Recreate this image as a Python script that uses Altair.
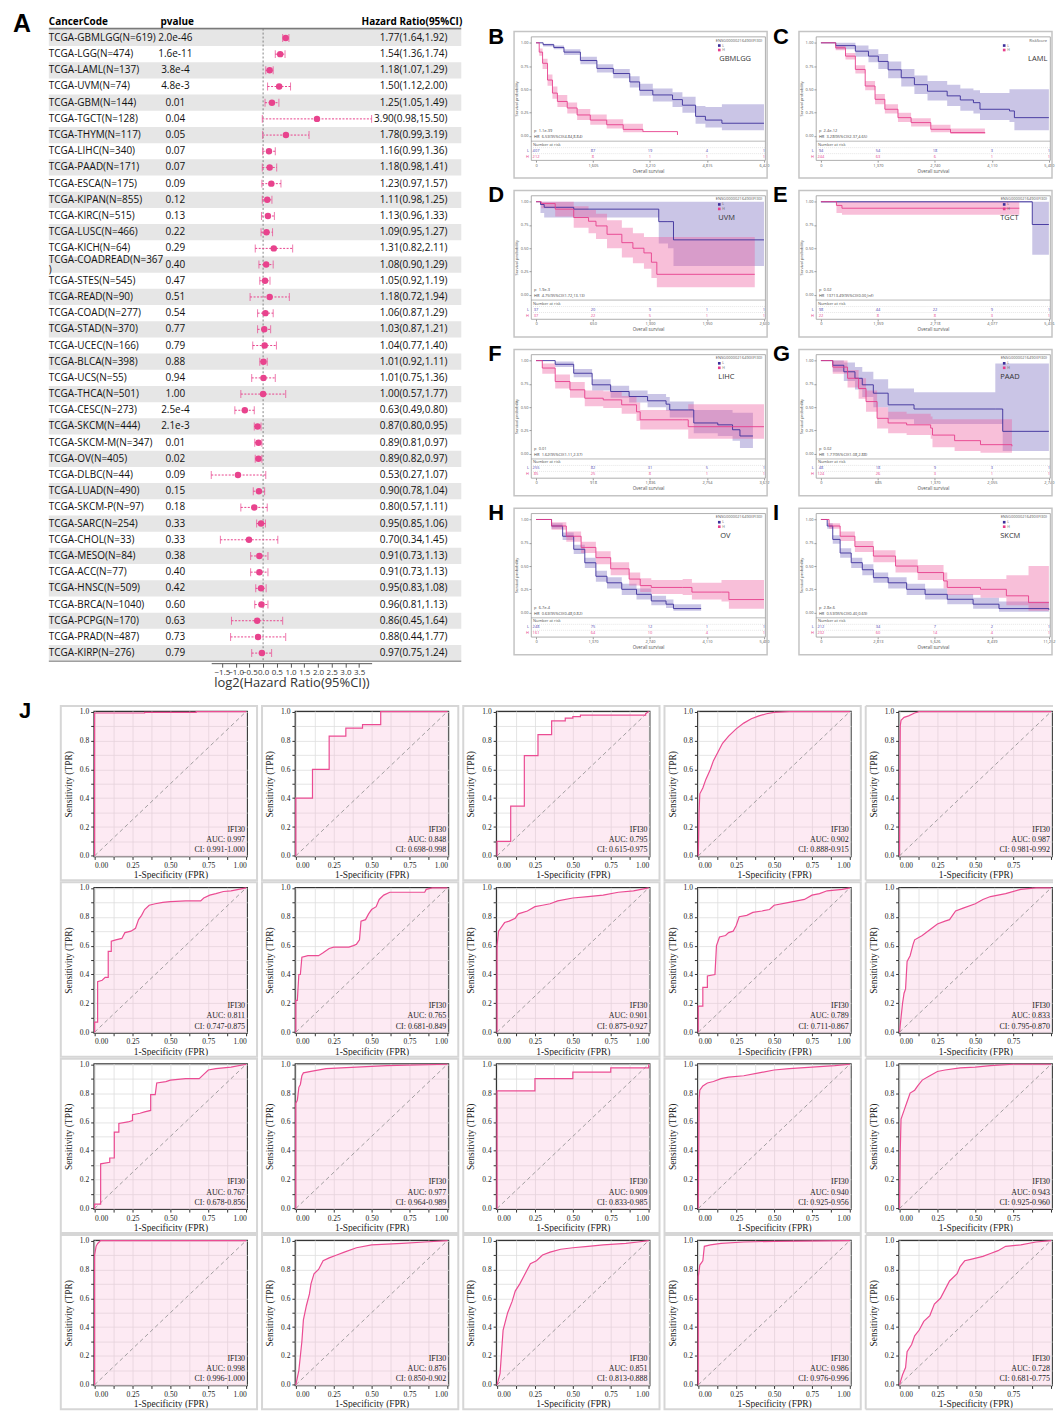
import altair as alt
import pandas as pd

# ---------------- Panel A: forest plot data ----------------
cancer_codes = [
    "TCGA-GBMLGG(N=619)", "TCGA-LGG(N=474)", "TCGA-LAML(N=137)", "TCGA-UVM(N=74)", "TCGA-GBM(N=144)",
    "TCGA-TGCT(N=128)", "TCGA-THYM(N=117)", "TCGA-LIHC(N=340)", "TCGA-PAAD(N=171)", "TCGA-ESCA(N=175)",
    "TCGA-KIPAN(N=855)", "TCGA-KIRC(N=515)", "TCGA-LUSC(N=466)", "TCGA-KICH(N=64)", "TCGA-COADREAD(N=367)",
    "TCGA-STES(N=545)", "TCGA-READ(N=90)", "TCGA-COAD(N=277)", "TCGA-STAD(N=370)", "TCGA-UCEC(N=166)",
    "TCGA-BLCA(N=398)", "TCGA-UCS(N=55)", "TCGA-THCA(N=501)", "TCGA-CESC(N=273)", "TCGA-SKCM(N=444)",
    "TCGA-SKCM-M(N=347)", "TCGA-OV(N=405)", "TCGA-DLBC(N=44)", "TCGA-LUAD(N=490)", "TCGA-SKCM-P(N=97)",
    "TCGA-SARC(N=254)", "TCGA-CHOL(N=33)", "TCGA-MESO(N=84)", "TCGA-ACC(N=77)", "TCGA-HNSC(N=509)",
    "TCGA-BRCA(N=1040)", "TCGA-PCPG(N=170)", "TCGA-PRAD(N=487)", "TCGA-KIRP(N=276)"]
p_values = ["2.0e-46", "1.6e-11", "3.8e-4", "4.8e-3", "0.01", "0.04", "0.05", "0.07", "0.07", "0.09",
            "0.12", "0.13", "0.22", "0.29", "0.40", "0.47", "0.51", "0.54", "0.77", "0.79",
            "0.88", "0.94", "1.00", "2.5e-4", "2.1e-3", "0.01", "0.02", "0.09", "0.15", "0.18",
            "0.33", "0.33", "0.38", "0.40", "0.42", "0.60", "0.63", "0.73", "0.79"]
hr_est = [1.77, 1.54, 1.18, 1.50, 1.25, 3.90, 1.78, 1.16, 1.18, 1.23, 1.11, 1.13, 1.09, 1.31, 1.08,
          1.05, 1.18, 1.06, 1.03, 1.04, 1.01, 1.01, 1.00, 0.63, 0.87, 0.89, 0.89, 0.53, 0.90, 0.80,
          0.95, 0.70, 0.91, 0.91, 0.95, 0.96, 0.86, 0.88, 0.97]
hr_low = [1.64, 1.36, 1.07, 1.12, 1.05, 0.98, 0.99, 0.99, 0.98, 0.97, 0.98, 0.96, 0.95, 0.82, 0.90,
          0.92, 0.72, 0.87, 0.87, 0.77, 0.92, 0.75, 0.57, 0.49, 0.80, 0.81, 0.82, 0.27, 0.78, 0.57,
          0.85, 0.34, 0.73, 0.73, 0.83, 0.81, 0.45, 0.44, 0.75]
hr_high = [1.92, 1.74, 1.29, 2.00, 1.49, 15.50, 3.19, 1.36, 1.41, 1.57, 1.25, 1.33, 1.27, 2.11, 1.29,
           1.19, 1.94, 1.29, 1.21, 1.40, 1.11, 1.36, 1.77, 0.80, 0.95, 0.97, 0.97, 1.07, 1.04, 1.11,
           1.06, 1.45, 1.13, 1.13, 1.08, 1.13, 1.64, 1.77, 1.24]
forest_ticks = [-1.5, -1.0, -0.5, 0.0, 0.5, 1.0, 1.5, 2.0, 2.5, 3.0, 3.5]

# ---------------- Panels B-I: Kaplan-Meier data (time, survival, lower, upper) ----------------
B_L = [(0, 1.0, 1.0, 1.0), (200, 0.98, 0.96, 0.99), (500, 0.95, 0.93, 0.97), (787, 0.90, 0.87, 0.93),
       (1250, 0.81, 0.77, 0.85), (1714, 0.725, 0.68, 0.77), (2177, 0.67, 0.62, 0.72), (2640, 0.58, 0.52, 0.64),
       (2918, 0.49, 0.43, 0.56), (3289, 0.44, 0.37, 0.51), (3845, 0.39, 0.31, 0.47), (4123, 0.33, 0.25, 0.42),
       (4494, 0.21, 0.13, 0.32), (4771, 0.17, 0.09, 0.31), (5235, 0.136, 0.06, 0.34), (6420, 0.136, 0.06, 0.34)]
B_H = [(0, 1.0, 1.0, 1.0), (90, 0.90, 0.86, 0.94), (185, 0.78, 0.72, 0.83), (324, 0.60, 0.54, 0.66),
       (463, 0.46, 0.40, 0.53), (602, 0.37, 0.31, 0.44), (880, 0.30, 0.24, 0.36), (1158, 0.225, 0.17, 0.29),
       (1528, 0.17, 0.12, 0.23), (1991, 0.12, 0.08, 0.18), (2455, 0.07, 0.04, 0.13), (3011, 0.046, 0.02, 0.10),
       (3984, 0.01, None, None)]
C_L = [(0, 1.0, 1.0, 1.0), (355, 0.97, 0.93, 1.0), (828, 0.91, 0.85, 0.97), (1143, 0.857, 0.79, 0.93),
       (1380, 0.80, 0.72, 0.88), (1616, 0.71, 0.62, 0.80), (1931, 0.625, 0.53, 0.72), (2247, 0.55, 0.45, 0.65),
       (2562, 0.48, 0.38, 0.59), (3035, 0.43, 0.32, 0.55), (3351, 0.386, 0.27, 0.51), (3666, 0.357, 0.24, 0.49),
       (3824, 0.286, 0.17, 0.46), (4533, 0.268, 0.15, 0.50), (4651, 0.196, 0.06, 0.50), (5480, 0.196, 0.06, 0.50)]
C_H = [(0, 1.0, 1.0, 1.0), (355, 0.946, 0.92, 0.97), (591, 0.857, 0.82, 0.89), (828, 0.714, 0.67, 0.76),
       (1064, 0.536, 0.49, 0.59), (1301, 0.393, 0.34, 0.45), (1537, 0.286, 0.24, 0.34), (1852, 0.196, 0.15, 0.25),
       (2168, 0.143, 0.10, 0.19), (2641, 0.071, 0.04, 0.12), (3115, 0.036, 0.02, 0.08), (3942, 0.029, 0.01, 0.07)]
D_L = [(0, 1.0, 1.0, 1.0), (51, 0.97, 0.88, 1.0), (93, 0.94, 0.83, 1.0), (430, 0.92, 0.83, 1.0),
       (1357, 0.92, 0.83, 1.0), (1400, 0.786, 0.55, 1.0), (1505, 0.786, 0.50, 1.0), (1568, 0.59, 0.31, 1.0),
       (2600, 0.59, 0.31, 1.0)]
D_H = [(0, 1.0, 1.0, 1.0), (60, 0.98, 0.93, 1.0), (219, 0.92, 0.84, 1.0), (430, 0.83, 0.72, 0.95),
       (599, 0.79, 0.66, 0.91), (684, 0.74, 0.60, 0.87), (810, 0.65, 0.50, 0.80), (979, 0.56, 0.40, 0.72),
       (1105, 0.50, 0.34, 0.66), (1231, 0.45, 0.28, 0.62), (1316, 0.35, 0.18, 0.62), (1378, 0.22, 0.08, 0.62),
       (2495, 0.22, 0.08, 0.62)]
E_L = [(0, 1.0, 0.99, 1.0), (5040, 0.755, 0.43, 1.0), (5436, 0.755, 0.43, 1.0)]
E_H = [(0, 1.0, 1.0, 1.0), (370, 0.96, 0.88, 1.0), (502, 0.93, 0.86, 1.0), (4731, 0.93, 0.86, 1.0)]
F_L = [(0, 1.0, 1.0, 1.0), (309, 0.96, 0.93, 0.99), (607, 0.864, 0.82, 0.91), (904, 0.74, 0.68, 0.80),
       (1202, 0.668, 0.60, 0.73), (1500, 0.614, 0.55, 0.68), (1797, 0.568, 0.50, 0.64), (2095, 0.532, 0.46, 0.61),
       (2154, 0.47, 0.39, 0.56), (2452, 0.47, 0.39, 0.56), (2541, 0.33, 0.22, 0.47), (2928, 0.31, 0.19, 0.47),
       (3166, 0.257, 0.14, 0.44), (3285, 0.19, 0.06, 0.44), (3494, 0.19, 0.06, 0.44)]
F_H = [(0, 1.0, 1.0, 1.0), (101, 0.92, 0.86, 0.97), (309, 0.775, 0.70, 0.85), (547, 0.686, 0.60, 0.77),
       (785, 0.596, 0.51, 0.68), (1083, 0.578, 0.49, 0.67), (1380, 0.525, 0.43, 0.62), (1619, 0.45, 0.35, 0.55),
       (1678, 0.364, 0.26, 0.47), (2362, 0.364, 0.26, 0.47), (2452, 0.29, 0.16, 0.53), (3672, 0.29, 0.16, 0.53)]
G_L = [(0, 1.0, 1.0, 1.0), (142, 0.95, 0.88, 1.0), (275, 0.88, 0.78, 0.98), (409, 0.81, 0.69, 0.93),
       (497, 0.74, 0.61, 0.88), (630, 0.65, 0.50, 0.80), (808, 0.525, 0.37, 0.70), (1119, 0.48, 0.32, 0.66),
       (2096, 0.48, 0.32, 0.97), (2185, 0.24, 0.03, 0.97), (2740, 0.24, 0.03, 0.97)]
G_H = [(0, 1.0, 1.0, 1.0), (142, 0.93, 0.86, 1.0), (320, 0.81, 0.71, 0.90), (453, 0.70, 0.59, 0.81),
       (542, 0.56, 0.45, 0.68), (675, 0.38, 0.27, 0.50), (808, 0.33, 0.22, 0.45), (1030, 0.31, 0.20, 0.43),
       (1319, 0.275, 0.16, 0.40), (1341, 0.20, 0.07, 0.37), (1607, 0.14, 0.03, 0.37), (1918, 0.097, 0.01, 0.37),
       (2296, 0.08, 0.0, 0.37)]
H_L = [(0, 1.0, 1.0, 1.0), (373, 0.93, 0.90, 0.96), (640, 0.82, 0.78, 0.86), (906, 0.68, 0.63, 0.73),
       (1173, 0.535, 0.48, 0.59), (1439, 0.39, 0.33, 0.45), (1706, 0.32, 0.26, 0.38), (2061, 0.25, 0.19, 0.31),
       (2416, 0.196, 0.14, 0.26), (2771, 0.125, 0.08, 0.18), (3126, 0.09, 0.05, 0.14), (3304, 0.043, 0.02, 0.09),
       (3969, 0.043, 0.02, 0.09)]
H_H = [(0, 1.0, 1.0, 1.0), (373, 0.93, 0.89, 0.97), (728, 0.82, 0.76, 0.87), (1084, 0.70, 0.64, 0.76),
       (1439, 0.59, 0.52, 0.66), (1795, 0.47, 0.40, 0.54), (2239, 0.36, 0.29, 0.43), (2505, 0.29, 0.22, 0.37),
       (2771, 0.27, 0.20, 0.35), (3526, 0.27, 0.19, 0.36), (3748, 0.22, 0.14, 0.32), (4459, 0.22, 0.12, 0.35),
       (4637, 0.14, 0.04, 0.35), (5480, 0.14, 0.04, 0.35)]
I_L = [(0, 1.0, 1.0, 1.0), (310, 0.93, 0.90, 0.96), (584, 0.786, 0.74, 0.83), (948, 0.64, 0.59, 0.69),
       (1495, 0.536, 0.48, 0.59), (2042, 0.46, 0.40, 0.52), (2589, 0.375, 0.32, 0.43), (3319, 0.32, 0.26, 0.38),
       (4230, 0.25, 0.19, 0.31), (5142, 0.196, 0.14, 0.26), (6236, 0.143, 0.09, 0.20), (7512, 0.09, 0.04, 0.16),
       (8789, 0.043, 0.01, 0.12), (11252, 0.03, 0.0, 0.12)]
I_H = [(0, 1.0, 1.0, 1.0), (401, 0.93, 0.90, 0.96), (948, 0.82, 0.77, 0.87), (1677, 0.71, 0.65, 0.77),
       (2589, 0.607, 0.54, 0.67), (3683, 0.50, 0.43, 0.57), (4777, 0.43, 0.35, 0.51), (6053, 0.34, 0.26, 0.43),
       (6236, 0.27, 0.19, 0.36), (7877, 0.25, 0.16, 0.36), (9154, 0.18, 0.08, 0.40), (10248, 0.107, 0.02, 0.50),
       (11252, 0.107, 0.02, 0.50)]

B_ticks = [0, 1605, 3210, 4815, 6420]
C_ticks = [0, 1370, 2740, 4110, 5480]
D_ticks = [0, 650, 1300, 1950, 2600]
E_ticks = [0, 1359, 2718, 4077, 5436]
F_ticks = [0, 918, 1836, 2754, 3672]
G_ticks = [0, 685, 1370, 2055, 2740]
H_ticks = [0, 1370, 2740, 4110, 5480]
I_ticks = [0, 2813, 5626, 8439, 11252]

B_riskL, B_riskH = [407, 87, 19, 4, 1], [212, 8, 1, 1, 1]
C_riskL, C_riskH = [94, 54, 18, 3, 1], [244, 63, 6, 1, 1]
D_riskL, D_riskH = [37, 20, 9, 1, 1], [37, 22, 5, 1, 1]
E_riskL, E_riskH = [98, 44, 22, 9, 1], [22, 8, 8, 3, 1]
F_riskL, F_riskH = [255, 82, 31, 5, 1], [85, 25, 8, 1, 1]
G_riskL, G_riskH = [48, 18, 9, 3, 1], [124, 26, 3, 1, 1]
H_riskL, H_riskH = [248, 75, 12, 1, 1], [161, 64, 10, 4, 1]
I_riskL, I_riskH = [212, 34, 7, 2, 1], [232, 60, 14, 4, 1]

km_letters = ["B", "C", "D", "E", "F", "G", "H", "I"]
km_names = ["GBMLGG", "LAML", "UVM", "TGCT", "LIHC", "PAAD", "OV", "SKCM"]
km_legend_titles = ["ENSG00000216490(IFI30)", "RiskScore", "ENSG00000216490(IFI30)", "ENSG00000216490(IFI30)",
                    "ENSG00000216490(IFI30)", "ENSG00000216490(IFI30)", "ENSG00000216490(IFI30)",
                    "ENSG00000216490(IFI30)"]
km_p = ["p=1.1e-39", "p=2.4e-12", "p=1.9e-3", "p=0.02", "p=0.01", "p=0.02", "p=6.7e-4", "p=2.8e-6"]
km_hr = ["HR=6.53(95%CI)(4.84,8.84)", "HR=3.28(95%CI)(2.37,4.65)", "HR=4.75(95%CI)(1.72,13.13)",
         "HR=13713.49(95%CI)(0.00,Inf)", "HR=1.62(95%CI)(1.11,2.37)", "HR=1.77(95%CI)(1.08,2.88)",
         "HR=0.63(95%CI)(0.48,0.82)", "HR=0.53(95%CI)(0.40,0.69)"]

# ---------------- Panel J: ROC curves (fpr, tpr) ----------------
roc01 = [(0, 0), (0, 0.99), (0.33, 0.99), (0.33, 0.995), (0.67, 0.995), (0.67, 1.0), (1, 1)]
roc02 = [(0, 0), (0, 0.4), (0.11, 0.4), (0.11, 0.6), (0.22, 0.6), (0.22, 0.83), (0.33, 0.83), (0.33, 0.885),
         (0.44, 0.885), (0.44, 0.91), (0.56, 0.91), (0.56, 1.0), (1, 1)]
roc03 = [(0, 0), (0, 0.1), (0.09, 0.1), (0.09, 0.345), (0.18, 0.345), (0.18, 0.695), (0.27, 0.695), (0.27, 0.84),
         (0.36, 0.84), (0.36, 0.935), (0.45, 0.935), (0.45, 0.955), (0.5, 0.955), (0.5, 0.965), (0.55, 0.965),
         (0.55, 0.975), (0.98, 0.975), (0.98, 0.985), (1, 1)]
roc04 = [(0, 0), (0.005, 0.3), (0.01, 0.43), (0.03, 0.47), (0.05, 0.53), (0.08, 0.6), (0.1, 0.66), (0.13, 0.72),
         (0.16, 0.78), (0.2, 0.83), (0.25, 0.88), (0.3, 0.92), (0.35, 0.95), (0.4, 0.97), (0.45, 0.985),
         (0.5, 0.995), (0.6, 1.0), (1, 1)]
roc05 = [(0, 0), (0.005, 0.9), (0.01, 0.94), (0.03, 0.96), (0.06, 0.97), (0.1, 0.99), (0.13, 1.0), (1, 1)]
roc06 = [(0, 0), (0, 0.07), (0.02, 0.07), (0.02, 0.35), (0.05, 0.36), (0.07, 0.38), (0.09, 0.38), (0.09, 0.56),
         (0.11, 0.56), (0.11, 0.63), (0.14, 0.64), (0.18, 0.65), (0.2, 0.69), (0.24, 0.7), (0.27, 0.72),
         (0.29, 0.78), (0.31, 0.81), (0.33, 0.85), (0.36, 0.88), (0.4, 0.89), (0.45, 0.9), (0.5, 0.905),
         (0.6, 0.91), (0.7, 0.91), (0.72, 0.93), (0.76, 0.95), (0.8, 0.96), (0.85, 0.975), (0.9, 0.98),
         (0.95, 0.99), (1, 1)]
roc07 = [(0, 0), (0, 0.22), (0.01, 0.22), (0.02, 0.4), (0.03, 0.4), (0.04, 0.52), (0.08, 0.53), (0.15, 0.53),
         (0.18, 0.55), (0.22, 0.58), (0.25, 0.59), (0.35, 0.59), (0.38, 0.6), (0.4, 0.61), (0.42, 0.64),
         (0.43, 0.77), (0.46, 0.78), (0.48, 0.82), (0.5, 0.85), (0.53, 0.87), (0.55, 0.92), (0.58, 0.95),
         (0.62, 0.97), (0.85, 0.97), (0.86, 0.99), (0.9, 1.0), (1, 1)]
roc08 = [(0, 0), (0, 0.6), (0.01, 0.7), (0.03, 0.73), (0.05, 0.76), (0.08, 0.77), (0.12, 0.79), (0.14, 0.82),
         (0.2, 0.84), (0.25, 0.87), (0.3, 0.88), (0.35, 0.89), (0.4, 0.91), (0.5, 0.93), (0.6, 0.94),
         (0.7, 0.95), (0.8, 0.97), (0.9, 0.98), (1, 1)]
roc09 = [(0, 0), (0, 0.18), (0.03, 0.18), (0.03, 0.31), (0.06, 0.31), (0.06, 0.39), (0.11, 0.4), (0.12, 0.6),
         (0.14, 0.66), (0.18, 0.67), (0.2, 0.69), (0.23, 0.7), (0.25, 0.74), (0.27, 0.8), (0.32, 0.81),
         (0.36, 0.83), (0.42, 0.84), (0.47, 0.85), (0.5, 0.88), (0.6, 0.9), (0.65, 0.91), (0.7, 0.92),
         (0.75, 0.95), (0.8, 0.96), (0.85, 0.98), (0.95, 0.99), (1, 1)]
roc10 = [(0, 0), (0.01, 0.1), (0.02, 0.2), (0.03, 0.27), (0.04, 0.3), (0.05, 0.49), (0.07, 0.53), (0.09, 0.61),
         (0.1, 0.64), (0.15, 0.67), (0.2, 0.71), (0.25, 0.75), (0.3, 0.77), (0.33, 0.78), (0.37, 0.84),
         (0.42, 0.86), (0.5, 0.89), (0.55, 0.92), (0.6, 0.94), (0.7, 0.96), (0.8, 0.99), (0.9, 1.0), (1, 1)]
roc11 = [(0, 0), (0, 0.03), (0.04, 0.03), (0.04, 0.31), (0.1, 0.32), (0.1, 0.35), (0.13, 0.35), (0.13, 0.53),
         (0.16, 0.53), (0.16, 0.59), (0.22, 0.6), (0.25, 0.61), (0.25, 0.65), (0.3, 0.66), (0.33, 0.67),
         (0.37, 0.68), (0.37, 0.79), (0.4, 0.79), (0.41, 0.87), (0.47, 0.88), (0.5, 0.89), (0.6, 0.9),
         (0.69, 0.9), (0.72, 0.93), (0.75, 0.96), (0.8, 0.97), (0.9, 0.98), (1, 1)]
roc12 = [(0, 0), (0, 0.73), (0.01, 0.75), (0.02, 0.84), (0.03, 0.86), (0.04, 0.92), (0.05, 0.94), (0.1, 0.95),
         (0.2, 0.97), (0.4, 0.98), (0.6, 0.99), (1, 1)]
roc13 = [(0, 0), (0, 0.815), (0.25, 0.815), (0.25, 0.9), (0.5, 0.9), (0.5, 0.945), (0.75, 0.945), (0.75, 0.975),
         (1, 0.975), (1, 1)]
roc14 = [(0, 0), (0.005, 0.75), (0.01, 0.82), (0.03, 0.85), (0.06, 0.87), (0.1, 0.88), (0.15, 0.9), (0.2, 0.91),
         (0.3, 0.92), (0.4, 0.94), (0.5, 0.96), (0.6, 0.97), (0.75, 0.98), (0.9, 0.99), (1, 1)]
roc15 = [(0, 0), (0.005, 0.4), (0.01, 0.62), (0.03, 0.68), (0.05, 0.74), (0.07, 0.8), (0.1, 0.82), (0.12, 0.85),
         (0.15, 0.89), (0.2, 0.92), (0.25, 0.95), (0.3, 0.96), (0.4, 0.975), (0.5, 0.98), (0.6, 0.99),
         (0.75, 1.0), (1, 1)]
roc16 = [(0, 0), (0, 0.9), (0.01, 0.96), (0.02, 0.98), (0.04, 1.0), (1, 1)]
roc17 = [(0, 0), (0.02, 0.1), (0.04, 0.3), (0.05, 0.45), (0.07, 0.55), (0.09, 0.63), (0.1, 0.7), (0.12, 0.77),
         (0.15, 0.8), (0.18, 0.86), (0.22, 0.88), (0.27, 0.9), (0.32, 0.92), (0.4, 0.95), (0.5, 0.97),
         (0.7, 0.98), (0.85, 0.99), (1, 1)]
roc18 = [(0, 0), (0.02, 0.08), (0.04, 0.38), (0.07, 0.5), (0.1, 0.58), (0.12, 0.65), (0.15, 0.7), (0.18, 0.76),
         (0.22, 0.84), (0.26, 0.86), (0.3, 0.9), (0.35, 0.92), (0.42, 0.94), (0.5, 0.95), (0.6, 0.96),
         (0.7, 0.97), (0.85, 0.98), (0.93, 0.99), (1, 1)]
roc19 = [(0, 0), (0, 0.75), (0.01, 0.83), (0.03, 0.86), (0.04, 0.96), (0.08, 0.97), (0.15, 0.98), (0.3, 0.99),
         (0.5, 0.995), (1, 1)]
roc20 = [(0, 0), (0.02, 0.07), (0.04, 0.12), (0.05, 0.23), (0.08, 0.28), (0.1, 0.34), (0.13, 0.38), (0.16, 0.44),
         (0.2, 0.48), (0.23, 0.56), (0.27, 0.6), (0.3, 0.66), (0.33, 0.72), (0.38, 0.77), (0.4, 0.82),
         (0.43, 0.86), (0.47, 0.87), (0.55, 0.89), (0.6, 0.91), (0.65, 0.93), (0.7, 0.96), (0.8, 0.97),
         (0.9, 0.99), (1, 1)]
roc_auc = ["0.997", "0.848", "0.795", "0.902", "0.987", "0.811", "0.765", "0.901", "0.789", "0.833",
           "0.767", "0.977", "0.909", "0.940", "0.943", "0.998", "0.876", "0.851", "0.986", "0.728"]
roc_ci = ["0.991-1.000", "0.698-0.998", "0.615-0.975", "0.888-0.915", "0.981-0.992",
          "0.747-0.875", "0.681-0.849", "0.875-0.927", "0.711-0.867", "0.795-0.870",
          "0.678-0.856", "0.964-0.989", "0.833-0.985", "0.925-0.956", "0.925-0.960",
          "0.996-1.000", "0.850-0.902", "0.813-0.888", "0.976-0.996", "0.681-0.775"]
roc_x_grid = [0, 0.125, 0.25, 0.375, 0.5, 0.625, 0.75, 0.875, 1.0]
roc_y_grid = [0, 0.1, 0.2, 0.3, 0.4, 0.5, 0.6, 0.7, 0.8, 0.9, 1.0]

# ---------------- styling ----------------
PINK = "#E8438D"
KM_BLUE = "#3B2F9A"
KM_PINK = "#E63F8C"
BLUE_BAND = "#7B6FC0"
PINK_BAND = "#EE5FA0"
ROC_LINE = "#EB4C93"
ROC_FILL = "#F7B8D6"
SERIF = "Liberation Serif"
SANS = "Open Sans"
ONE = pd.DataFrame({"k": [0]})

ROC_W, ROC_H = 154, 146
KM_W, KM_H = 235, 124


def txt(text, x, y, **kw):
    return alt.Chart(ONE).mark_text(text=text, **kw).encode(x=alt.value(x), y=alt.value(y))


def box(x1, x2, y1, y2, color, width):
    return alt.Chart(ONE).mark_rect(fillOpacity=0, stroke=color, strokeWidth=width).encode(
        x=alt.value(x1), x2=alt.value(x2), y=alt.value(y1), y2=alt.value(y2))


def seg(x1, x2, y1, y2, color, width):
    return alt.Chart(ONE).mark_rule(color=color, strokeWidth=width).encode(
        x=alt.value(x1), x2=alt.value(x2), y=alt.value(y1), y2=alt.value(y2))


def anchor(x, y):
    # tiny white tick: keeps the layout bounds of a panel where the figure has them
    return alt.Chart(ONE).mark_rule(color="white", strokeWidth=0.5).encode(
        x=alt.value(x), x2=alt.value(x + 1), y=alt.value(y))


# ---------------- Panel A ----------------
def panel_a():
    labs = [f"{h:.2f}({l:.2f},{u:.2f})" for h, l, u in zip(hr_est, hr_low, hr_high)]
    wrap = [c == "TCGA-COADREAD(N=367)" for c in cancer_codes]
    disp = [c[:-1] + "\n)" if w else c for c, w in zip(cancer_codes, wrap)]
    df = pd.DataFrame({"row": cancer_codes, "disp": disp, "p": p_values, "hr": hr_est,
                       "lo": hr_low, "hi": hr_high, "lab": labs, "wrap": wrap,
                       "odd": [i % 2 == 0 for i in range(len(cancer_codes))]})
    ys = alt.Scale(domain=["hdr"] + cancer_codes, range=[-23, 627], paddingInner=0, paddingOuter=0)
    Y = alt.Y("row:N", scale=ys, axis=None)
    xs = alt.Scale(domain=[-1.89, 3.954], range=[118, 279], nice=False, zero=False)
    ax = alt.Axis(values=forest_ticks, format=".1f", title="log2(Hazard Ratio(95%CI))",
                  labelFontSize=8, titleFontSize=13, labelOverlap=False, tickSize=4, labelPadding=1,
                  titlePadding=0, domainColor="#555", tickColor="#555", labelColor="#333",
                  titleColor="#333", grid=False, offset=2, labelFont=SANS, titleFont=SANS,
                  titleFontWeight="normal")
    hdr = pd.DataFrame({"row": ["hdr"]})
    bands = alt.Chart(df[df.odd]).mark_rect(color="#e6e6e6").encode(
        y=Y, x=alt.value(-45), x2=alt.value(369))
    h1 = alt.Chart(hdr).mark_text(text="CancerCode", align="left", fontWeight="bold", fontSize=10,
                                  font=SANS).encode(x=alt.value(-45), y=Y)
    h2 = alt.Chart(hdr).mark_text(text="pvalue", align="left", fontWeight="bold", fontSize=10,
                                  font=SANS).encode(x=alt.value(67), y=Y)
    h3 = alt.Chart(hdr).mark_text(text="Hazard Ratio(95%CI)", align="right", fontWeight="bold",
                                  fontSize=10, font=SANS).encode(x=alt.value(370), y=Y)
    top_rule = seg(-45, 369, -8, -8, "#7a7a7a", 1.6)
    bot_rule = seg(-45, 369, 627, 627, "#a0a0a0", 1.6)
    zero = alt.Chart(pd.DataFrame({"z": [0.0]})).mark_rule(
        color="#777", strokeDash=[2, 2], strokeWidth=0.9).encode(
        x=alt.X("z:Q", scale=xs, axis=ax), y=alt.value(-8), y2=alt.value(627))
    names = alt.Chart(df[~df.wrap]).mark_text(align="left", baseline="middle", fontSize=10, font=SANS,
                                              color="#111").encode(x=alt.value(-45), y=Y, text="disp:N")
    names_w = alt.Chart(df[df.wrap]).mark_text(align="left", baseline="middle", fontSize=10, font=SANS,
                                               lineBreak="\n", lineHeight=10, dy=-5, color="#111").encode(
        x=alt.value(-45), y=Y, text="disp:N")
    pv = alt.Chart(df).mark_text(align="center", fontSize=10, font=SANS, color="#111").encode(
        x=alt.value(82), y=Y, text="p:N")
    hrt = alt.Chart(df).mark_text(align="right", fontSize=10, font=SANS, color="#111").encode(
        x=alt.value(355), y=Y, text="lab:N")
    logs = alt.Chart(df).transform_calculate(
        l="log(datum.hr)/LN2", ll="log(datum.lo)/LN2", lh="log(datum.hi)/LN2")
    err = logs.mark_rule(color=PINK, strokeDash=[2, 1.5], strokeWidth=1).encode(
        x=alt.X("ll:Q", scale=xs, axis=ax), x2="lh:Q", y=Y)
    cap1 = logs.mark_tick(color=PINK, thickness=1, size=8).encode(
        x=alt.X("ll:Q", scale=xs, axis=ax), y=Y)
    cap2 = logs.mark_tick(color=PINK, thickness=1, size=8).encode(
        x=alt.X("lh:Q", scale=xs, axis=ax), y=Y)
    pts = logs.mark_circle(color=PINK, size=42, opacity=1).encode(
        x=alt.X("l:Q", scale=xs, axis=ax), y=Y)
    letter = txt("A", -81, -25, fontSize=25, fontWeight="bold", font="Liberation Sans",
                 align="left", baseline="top", color="#000")
    return alt.layer(bands, top_rule, bot_rule, zero, h1, h2, h3, names, names_w, pv, hrt, err, cap1,
                     cap2, pts, letter, anchor(0, 660)).properties(
        width=369, height=627, view=alt.ViewBackground(stroke="transparent"))


# ---------------- KM panels ----------------
def km_panel(letter, name, name_x, leg_title, L, H, ticks, risk_l, risk_h, ptxt, hrtxt, top_anchor):
    tmax = ticks[-1]
    dl = pd.DataFrame(L, columns=["t", "s", "lo", "hi"])
    dh = pd.DataFrame(H, columns=["t", "s", "lo", "hi"])
    dr = pd.DataFrame({"t": ticks, "nl": [str(v) for v in risk_l], "nh": [str(v) for v in risk_h]})
    xs = alt.Scale(domain=[-0.022 * tmax, 1.005 * tmax], nice=False, zero=False)
    ys = alt.Scale(domain=[-0.26, 1.067], nice=False, zero=False)
    ax = alt.Axis(values=ticks, format=",d", labelFontSize=4, tickSize=2, title="Overall survival",
                  titleFontSize=4.5, titlePadding=1, labelPadding=1, domain=False, grid=False,
                  titleFontWeight="normal", labelColor="#555", titleColor="#555", tickColor="#999")
    ay = alt.Axis(values=[0, 0.25, 0.5, 0.75, 1.0], format=".2f", labelFontSize=4, tickSize=2,
                  title="Survival probability", titleFontSize=4, titlePadding=2, labelPadding=1,
                  domain=False, grid=False, titleFontWeight="normal", labelColor="#555",
                  titleColor="#555", tickColor="#999")

    def X(f):
        return alt.X(f, scale=xs, axis=ax)

    def Y(f):
        return alt.Y(f, scale=ys, axis=ay)

    layers = [box(-17, KM_W + 2, -5, 142, "#c4c4c4", 1.5)]
    for d, bc in ((dl, BLUE_BAND), (dh, PINK_BAND)):
        layers.append(alt.Chart(d).mark_area(interpolate="step-after", color=bc, opacity=0.4).encode(
            x=X("t:Q"), y=Y("lo:Q"), y2="hi:Q"))
    for d, lc in ((dl, KM_BLUE), (dh, KM_PINK)):
        layers.append(alt.Chart(d).mark_line(interpolate="step-after", color=lc, strokeWidth=0.9).encode(
            x=X("t:Q"), y=Y("s:Q")))
    layers.append(seg(0, KM_W, 105, 105, "#9a9a9a", 0.7))
    for yy in (111.5, 117.5):
        layers.append(alt.Chart(ONE).mark_rule(color="#cccccc", strokeWidth=0.5, strokeDash=[1, 1]).encode(
            x=alt.value(0), x2=alt.value(KM_W), y=alt.value(yy)))
    layers.append(txt("Number at risk", 2, 108.5, fontSize=4, align="left", color="#555"))
    layers.append(alt.Chart(dr).mark_text(fontSize=4, color="#4b44b0").encode(
        x=X("t:Q"), y=alt.value(114.5), text="nl:N"))
    layers.append(alt.Chart(dr).mark_text(fontSize=4, color=KM_PINK).encode(
        x=X("t:Q"), y=alt.value(120.5), text="nh:N"))
    layers.append(txt("L", -2, 114.5, fontSize=4, align="right", color="#4b44b0"))
    layers.append(txt("H", -2, 120.5, fontSize=4, align="right", color=KM_PINK))
    layers.append(txt(leg_title, KM_W - 3, 4, fontSize=4, align="right", color="#555"))
    layers.append(alt.Chart(ONE).mark_square(size=7, color=KM_BLUE, opacity=1).encode(
        x=alt.value(KM_W - 46), y=alt.value(9)))
    layers.append(alt.Chart(ONE).mark_square(size=7, color=KM_PINK, opacity=1).encode(
        x=alt.value(KM_W - 46), y=alt.value(13.5)))
    layers.append(txt("L", KM_W - 43, 9, fontSize=3.5, align="left", color="#555"))
    layers.append(txt("H", KM_W - 43, 13.5, fontSize=3.5, align="left", color="#555"))
    layers.append(txt(name, name_x, 23, fontSize=7.5, align="left", color="#333", font=SANS))
    layers.append(txt(ptxt, 3, 95, fontSize=4, align="left", color="#444"))
    layers.append(txt(hrtxt, 3, 101, fontSize=4, align="left", color="#444"))
    layers.append(txt(letter, -43, -10, fontSize=22, fontWeight="bold", font="Liberation Sans",
                      align="left", baseline="top", color="#000"))
    if top_anchor:
        layers.append(anchor(0, -25))
    return alt.layer(*layers).properties(
        width=KM_W, height=KM_H, view=alt.ViewBackground(stroke="#9a9a9a", strokeWidth=0.8))


# ---------------- ROC panels ----------------
def roc_panel(pts, auc, ci, first=False, last_col=False):
    d = pd.DataFrame(pts, columns=["fpr", "tpr"])
    d["i"] = list(range(len(d)))
    xs = alt.Scale(domain=[-0.006, 1.006], nice=False, zero=False)
    ys = alt.Scale(domain=[-0.004, 1.004], nice=False, zero=False)
    common = dict(labelFontSize=7.5, labelFont=SERIF, titleFont=SERIF, titleFontSize=9.5,
                  titleFontWeight="normal", domain=False, tickSize=3, tickColor="#333",
                  labelColor="#222", titleColor="#222", gridColor="#dedede", gridWidth=0.8,
                  grid=True, labelPadding=2)
    xl = "(datum.value*4) % 1 === 0 ? format(datum.value, '.2f') : ''"
    if last_col:
        xl = "(datum.value*4) % 1 === 0 && datum.value < 1 ? format(datum.value, '.2f') : ''"
    ax = alt.Axis(values=roc_x_grid, title="1-Specificity (FPR)", titlePadding=1, labelExpr=xl, **common)
    ay = alt.Axis(values=roc_y_grid, title="Sensitivity (TPR)", titlePadding=6,
                  labelExpr="round(datum.value*10) % 2 === 0 ? format(datum.value, '.1f') : ''", **common)
    X = alt.X("fpr:Q", scale=xs, axis=ax)
    Y = alt.Y("tpr:Q", scale=ys, axis=ay, stack=False)
    if last_col:
        layers = [seg(-33, ROC_W + 1, -5, -5, "#d6d6d6", 2),
                  seg(-33, ROC_W + 1, ROC_H + 24, ROC_H + 24, "#d6d6d6", 2),
                  seg(-33, -33, -5, ROC_H + 24, "#d6d6d6", 2)]
    else:
        layers = [box(-33, ROC_W + 10, -5, ROC_H + 24, "#d6d6d6", 2)]
    # filled region under the ROC curve (from the curve down to the plot floor)
    layers.append(alt.Chart(d).mark_area(color=ROC_FILL, fillOpacity=0.3, interpolate="linear").encode(
        x=X, y=Y, y2=alt.value(ROC_H)))
    layers.append(alt.Chart(pd.DataFrame({"fpr": [0.0, 1.0], "tpr": [0.0, 1.0]})).mark_line(
        color="#8a8a8a", strokeDash=[4, 3], strokeWidth=0.8).encode(x=X, y=Y))
    layers.append(alt.Chart(d).mark_line(color=ROC_LINE, strokeWidth=1.2).encode(x=X, y=Y, order="i:Q"))
    layers.append(txt("IFI30", ROC_W - 2, 119, fontSize=8, align="right", font=SERIF, color="#222"))
    layers.append(txt("AUC: " + auc, ROC_W - 2, 129.5, fontSize=8, align="right", font=SERIF, color="#222"))
    layers.append(txt("CI: " + ci, ROC_W - 2, 140, fontSize=8, align="right", font=SERIF, color="#222"))
    if first:
        layers.append(txt("J", -75, -10, fontSize=22, fontWeight="bold", font="Liberation Sans",
                          align="left", baseline="top", color="#000"))
        layers.append(anchor(-81, -8))
    return alt.layer(*layers).properties(
        width=ROC_W, height=ROC_H, view=alt.ViewBackground(stroke="#333", strokeWidth=1.2))


# ---------------- assemble ----------------
km_data = [(B_L, B_H, B_ticks, B_riskL, B_riskH), (C_L, C_H, C_ticks, C_riskL, C_riskH),
           (D_L, D_H, D_ticks, D_riskL, D_riskH), (E_L, E_H, E_ticks, E_riskL, E_riskH),
           (F_L, F_H, F_ticks, F_riskL, F_riskH), (G_L, G_H, G_ticks, G_riskL, G_riskH),
           (H_L, H_H, H_ticks, H_riskL, H_riskH), (I_L, I_H, I_ticks, I_riskL, I_riskH)]
name_x = [189, 213, 188, 185, 188, 185, 190, 185]
kms = []
for k in range(8):
    L, H, tk, rl, rh = km_data[k]
    kms.append(km_panel(km_letters[k], km_names[k], name_x[k], km_legend_titles[k], L, H, tk, rl, rh,
                        km_p[k], km_hr[k], k == 0))
km_grid = alt.concat(*kms, columns=2, spacing={"row": 35.5, "column": 51}, bounds="flush")
top = alt.hconcat(panel_a(), km_grid, spacing=24)

roc_curves = [roc01, roc02, roc03, roc04, roc05, roc06, roc07, roc08, roc09, roc10,
              roc11, roc12, roc13, roc14, roc15, roc16, roc17, roc18, roc19, roc20]
rocs = [roc_panel(roc_curves[i], roc_auc[i], roc_ci[i], i == 0, i % 5 == 4) for i in range(20)]
roc_grid = alt.concat(*rocs, columns=5, spacing={"row": 31, "column": 48}, bounds="flush")

chart = alt.vconcat(top, roc_grid, spacing=4).properties(
    padding={"left": 4, "top": 0, "right": 0, "bottom": 0}
).configure(font=SANS).configure_view(stroke="transparent")

chart.save("out.html", embed_options={"renderer": "svg", "actions": False})
